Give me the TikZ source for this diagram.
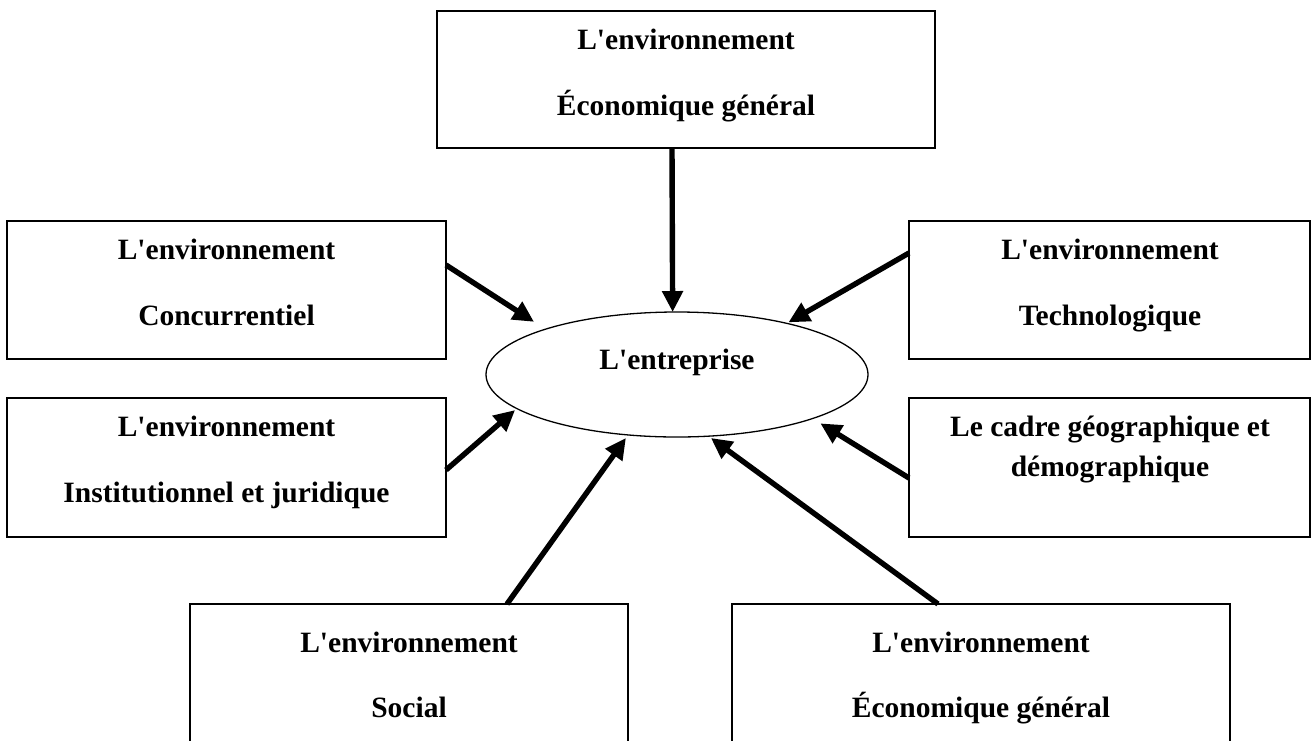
\documentclass[tikz,border=0pt]{standalone}
\usepackage{fontspec}
\setmainfont{Liberation Serif}[Ligatures=TeXOff]
\usetikzlibrary{shapes.geometric,arrows.meta}

\tikzset{
  envbox/.style={draw, line width=1.8pt, rectangle, inner sep=0pt, outer sep=0pt},
  label/.style={anchor=base, inner sep=0pt, font=\bfseries\fontsize{29.5}{35}\selectfont},
  firm/.style={draw, line width=1.3pt, ellipse, inner sep=0pt, outer sep=0pt,
               minimum width=382pt, minimum height=125pt},
  influence/.style={line width=5.4pt, -{Triangle[length=21pt,width=20pt]}}
}

\begin{document}
\begin{tikzpicture}[x=1pt, y=-1pt]
  \clip (0,0) rectangle (1312,740);
  \fill[white] (0,0) rectangle (1312,740);

  % the firm at the centre
  \node[firm] (ent) at (677,374.5) {};
  \node[label] (entT) at (677,369) {L'entreprise};

  % surrounding environments
  \node[envbox, minimum width=498pt, minimum height=137pt] (top) at (686,79.5) {};
  \node[label] (topA) at (686,49) {L'environnement};
  \node[label] (topB) at (686,115) {Économique général};

  \node[envbox, minimum width=439pt, minimum height=138pt] (l1) at (226.5,290) {};
  \node[label] (l1A) at (226.5,259) {L'environnement};
  \node[label] (l1B) at (226.5,325) {Concurrentiel};

  \node[envbox, minimum width=439pt, minimum height=139pt] (l2) at (226.5,467.5) {};
  \node[label] (l2A) at (226.5,436) {L'environnement};
  \node[label] (l2B) at (226.5,502) {Institutionnel et juridique};

  \node[envbox, minimum width=401pt, minimum height=138pt] (r1) at (1109.5,290) {};
  \node[label] (r1A) at (1110,259) {L'environnement};
  \node[label] (r1B) at (1110,325) {Technologique};

  \node[envbox, minimum width=401pt, minimum height=139pt] (r2) at (1109.5,467.5) {};
  \node[label] (r2A) at (1110,436) {Le cadre géographique et};
  \node[label] (r2B) at (1110,476) {démographique};

  \node[envbox, minimum width=438pt, minimum height=196pt] (bl) at (409,702) {};
  \node[label] (blA) at (409,652) {L'environnement};
  \node[label] (blB) at (409,717) {Social};

  \node[envbox, minimum width=498pt, minimum height=196pt] (br) at (981,702) {};
  \node[label] (brA) at (981,652) {L'environnement};
  \node[label] (brB) at (981,717) {Économique général};

  % influences acting on the firm
  \draw[influence] ([xshift=-14pt]top.south) -- (ent.94.58);
  \draw[influence, shorten >=13.6pt] ([yshift=25pt]l1.east) -- (ent.161.3);
  \draw[influence, shorten >=2.3pt] ([yshift=-2.5pt]l2.east) -- (ent.192.5);
  \draw[influence, shorten >=2pt] ([yshift=37pt]r1.west) -- (ent.25.45);
  \draw[influence, shorten >=9.2pt] ([yshift=-10.5pt]r2.west) -- (ent.-18.6);
  \draw[influence, shorten >=3.7pt] ([xshift=98pt]bl.north) -- (ent.231.7);
  \draw[influence, shorten >=3.1pt] ([xshift=-43pt]br.north) -- (ent.-63.7);
\end{tikzpicture}
\end{document}
